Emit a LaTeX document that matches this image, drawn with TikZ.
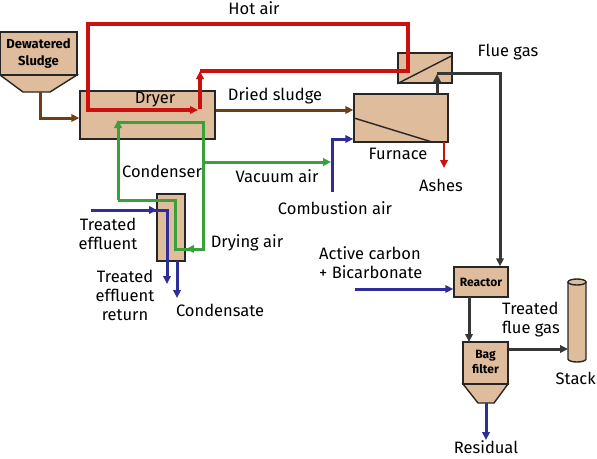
\documentclass[tikz,border=0pt]{standalone}
\usepackage{fontspec}
\setmainfont{Fira Sans}
\usetikzlibrary{arrows.meta}
\definecolor{tanfill}{RGB}{222,188,156}
\definecolor{hotred}{RGB}{204,16,16}
\definecolor{grn}{RGB}{58,160,58}
\definecolor{blu}{RGB}{46,46,150}
\definecolor{brn}{RGB}{110,62,20}
\definecolor{dgray}{RGB}{55,55,55}
\begin{document}
\begin{tikzpicture}[x=1pt,y=-1pt,
  unit/.style={draw=black!85,line width=1.4pt,fill=tanfill,inner sep=0pt},
  lbl/.style={font=\fontsize{16.5}{19}\selectfont,inner sep=0pt,align=center},
  blbl/.style={font=\fontsize{13}{14}\selectfont\bfseries,inner sep=0pt,align=center},
  tip/.style={-{Triangle[length=8pt,width=7.5pt]}},
  redl/.style={draw=hotred,line width=3.2pt},
  grnl/.style={draw=grn,line width=3pt},
  blul/.style={draw=blu,line width=3pt},
  brnl/.style={draw=brn,line width=3pt},
  gryl/.style={draw=dgray,line width=3pt},
  line join=miter]
\useasboundingbox (0,0) rectangle (597,458);

% Dewatered sludge hopper
\draw[unit] (0,75) -- (23,92) -- (50,92) -- (77,75) -- cycle;
\node[unit,minimum width=77pt,minimum height=43pt] (sludge) at (38.5,53.5) {};
\node[blbl,font=\fontsize{13}{17}\selectfont\bfseries] (lsludge) at (38.5,54) {Dewatered\\Sludge};
\coordinate (sludgeout) at (40,92);

% Dryer
\node[unit,minimum width=135pt,minimum height=48pt] (dryer) at (147.5,115) {};
\node[lbl] (ldryer) at (155,100) {Dryer};

% Heat exchanger
\node[unit,minimum width=54pt,minimum height=30pt] (hx) at (425,68) {};
\draw[line width=1.4pt,black!85] (hx.south west) -- ([yshift=-3pt]hx.north east);

% Furnace
\node[unit,minimum width=94pt,minimum height=48pt] (furnace) at (401,118) {};
\draw[line width=1.4pt,black!85] (354,118) -- (432,142);

% Condenser
\node[unit,minimum width=28pt,minimum height=67pt] (cond) at (171,227.5) {};

% Reactor
\node[unit,minimum width=54pt,minimum height=30pt] (reactor) at (481,282) {};
\node[blbl,font=\fontsize{12}{13}\selectfont\bfseries] (lreactor) at (481,282) {Reactor};

% Bag filter
\draw[unit] (463,384) -- (478,403) -- (494,403) -- (508,384) -- cycle;
\node[unit,minimum width=45pt,minimum height=42pt] (bag) at (485.5,363) {};
\node[blbl,font=\fontsize{12}{15}\selectfont\bfseries] (lbag) at (485.5,362) {Bag\\filter};

% Stack
\fill[tanfill] (568,282) rectangle (586,359);
\fill[tanfill] (577,359) ellipse [x radius=9pt,y radius=3pt];
\draw[line width=1.4pt,black!85] (568,282) -- (568,359) arc[start angle=180,end angle=360,x radius=9pt,y radius=3pt] -- (586,282);
\draw[line width=1.4pt,black!85,fill=tanfill] (577,282) ellipse [x radius=9pt,y radius=3pt];
\coordinate (stackin) at (568,349);

% Brown connectors
\draw[brnl,tip] (sludgeout) |- (dryer.west |- 0,118);
\draw[brnl,tip] (dryer.east |- 0,110) -- (furnace.west |- 0,110);

% Red hot air loop
\draw[redl,tip] (200,109) -- (200,71);
\draw[redl,tip] (200,71) -- (408,71) -- (408,24) -- (88,24) -- (88,110) -- (198,110);

% Red ashes
\draw[redl,line width=2.6pt,tip] (444,142) -- (444,168);

% Green loops
\draw[grnl] (118,200) -- (118,126) ;
\draw[grnl,tip] (118,140) -- (118,120);
\draw[grnl] (118,122) -- (203,122) -- (203,249) -- (175,249) -- (175,200) -- (118,200);
\draw[grnl,tip] (203,249) -- (186,249);
\draw[grnl,tip] (203,162) -- (331,162);

% Blue lines
\draw[blul,tip] (332,192) -- (332,139) -- (furnace.west |- 0,139);
\draw[blul] (91,210) -- (167,210) -- (167,270);
\draw[blul,tip] (91,210) -- (157,210);
\draw[blul,tip] (167,250) -- (167,284);
\draw[blul,tip] (177,261) -- (177,298);
\draw[blul,tip] (355,289) -- (reactor.west |- 0,289);
\draw[blul,tip] (486,403) -- (486,440);

% Dark gray flue gas
\draw[gryl,tip] (437,94) -- (437,74);
\draw[gryl,tip] (437,73) -- (500,73) -- (500,0 |- reactor.north);
\draw[gryl,tip] (469,297) -- (469,342);
\draw[gryl,tip] (bag.east |- 0,349) -- (stackin);

% Labels
\node[lbl] (lhot) at (254,8) {Hot air};
\node[lbl] (lflue) at (508,52) {Flue gas};
\node[lbl] (ldried) at (275,96) {Dried sludge};
\node[lbl] (lfurn) at (398,154) {Furnace};
\node[lbl] (lash) at (441,185) {Ashes};
\node[lbl] (lcondenser) at (162,171) {Condenser};
\node[lbl] (lvac) at (277,176) {Vacuum air};
\node[lbl] (lcomb) at (335,208) {Combustion air};
\node[lbl] (lteff) at (108,234) {Treated\\effluent};
\node[lbl] (lter) at (125,295) {Treated\\effluent\\return};
\node[lbl] (lcondensate) at (220,310) {Condensate};
\node[lbl] (ldry) at (247,243) {Drying air};
\node[lbl,align=left,anchor=west] (lact) at (319,263) {Active carbon\\+ Bicarbonate};
\node[lbl,align=left,anchor=west] (ltfg) at (502,320) {Treated\\flue gas};
\node[lbl,anchor=east] (lstack) at (596,378) {Stack};
\node[lbl] (lres) at (486,447) {Residual};
\end{tikzpicture}
\end{document}
